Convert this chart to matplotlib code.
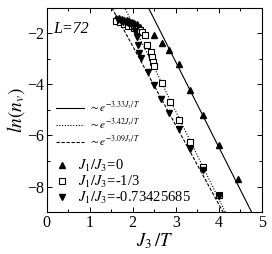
import numpy as np
import matplotlib
matplotlib.use("Agg")
import matplotlib.pyplot as plt

plt.rcParams['font.family'] = ['Liberation Serif', 'DejaVu Serif']
plt.rcParams['mathtext.fontset'] = 'stix'

# J1/J3 = 0 (filled up triangles)
x_a = [1.62, 1.68, 1.74, 1.80, 1.86, 1.92, 1.98, 2.04, 2.10, 2.16, 2.20, 2.50, 2.67, 2.84, 3.08, 3.33, 3.63, 4.01, 4.46]
y_a = [-1.40, -1.42, -1.45, -1.48, -1.50, -1.52, -1.55, -1.60, -1.66, -1.75, -1.93, -2.07, -2.38, -2.66, -3.22, -4.22, -5.22, -6.37, -7.71]

# J1/J3 = -1/3 (open squares)
x_b = [1.61, 1.70, 1.80, 1.90, 1.98, 2.04, 2.10, 2.16, 2.22, 2.29, 2.34, 2.43, 2.44, 2.47, 2.50, 2.67, 2.87, 3.07, 3.33, 3.63, 4.00]
y_b = [-1.52, -1.57, -1.63, -1.70, -1.73, -1.78, -1.82, -1.88, -1.95, -2.09, -2.45, -2.73, -2.92, -3.12, -3.29, -3.96, -4.68, -5.38, -6.27, -7.24, -8.35]

# J1/J3 = -0.73425685 (filled down triangles)
x_c = [1.66, 1.72, 1.78, 1.84, 1.90, 1.96, 2.02, 2.06, 2.09, 2.12, 2.15, 2.19, 2.35, 2.50, 2.66, 2.84, 3.07, 3.33, 3.63, 4.00]
y_c = [-1.50, -1.52, -1.55, -1.57, -1.60, -1.63, -1.70, -1.90, -2.15, -2.45, -2.77, -2.98, -3.51, -4.03, -4.57, -5.12, -5.75, -6.52, -7.37, -8.38]

# fitted lines: slope, intercept
fit_slopes = [-3.33, -3.42, -3.09]
fit_intercepts = [6.87, 5.20, 3.67]
fit_labels = [r'$\sim e^{-3.33J_3/T}$', r'$\sim e^{-3.42J_3/T}$', r'$\sim e^{-3.09J_3/T}$']
fit_styles = ['-', (0, (1, 1.5)), (0, (3, 1.5))]

series_labels = [r'$J_1/J_3$=0', r'$J_1/J_3$=-1/3', r'$J_1/J_3$=-0.73425685']

fig = plt.figure(figsize=(2.72, 2.54), dpi=100)
ax = fig.add_axes([0.172, 0.165, 0.790, 0.805])

xs = np.linspace(0, 5, 200)
line_handles = []
for s, b, ls, lab in zip(fit_slopes, fit_intercepts, fit_styles, fit_labels):
    h, = ax.plot(xs, s * xs + b, color='black', lw=0.8, linestyle=ls, label=lab)
    line_handles.append(h)

m1, = ax.plot(x_a, y_a, linestyle='none', marker='^', color='black', ms=5, label=series_labels[0])
m2, = ax.plot(x_b, y_b, linestyle='none', marker='s', mfc='white', mec='black', mew=0.8, ms=4.5, label=series_labels[1])
m3, = ax.plot(x_c, y_c, linestyle='none', marker='v', color='black', ms=5, label=series_labels[2])

ax.set_xlim(0, 5)
ax.set_ylim(-9, -1)
ax.set_xticks([0, 1, 2, 3, 4, 5])
ax.set_yticks([-8, -6, -4, -2])
ax.set_xticks(np.arange(0.5, 5, 1.0), minor=True)
ax.set_yticks([-7, -5, -3], minor=True)
ax.tick_params(which='both', direction='in', top=True, right=True, labelsize=11.5, pad=2)
ax.tick_params(which='major', length=3.5, width=0.7)
ax.tick_params(which='minor', length=2, width=0.7)
for sp in ax.spines.values():
    sp.set_linewidth(0.8)

ax.set_xlabel(r'$J_3\,/T$', fontsize=13.5, labelpad=0)
ax.set_ylabel(r'$ln(n_v)$', fontsize=14, labelpad=0)
ax.text(0.03, 0.895, 'L=72', transform=ax.transAxes, fontsize=11.5, fontstyle='italic', va='center', ha='left')

leg1 = ax.legend(handles=line_handles, loc='upper left', bbox_to_anchor=(0.02, 0.57), frameon=False,
                 fontsize=8, handlelength=2.6, handletextpad=0.4, labelspacing=0.15, borderpad=0.2,
                 borderaxespad=0.2)
ax.add_artist(leg1)
ax.legend(handles=[m1, m2, m3], loc='lower left', bbox_to_anchor=(0.01, 0.0), frameon=False,
          fontsize=10.5, handlelength=1.0, handletextpad=0.6, labelspacing=0.0, borderpad=0.2,
          borderaxespad=0.2)

fig.savefig('out.png', dpi=100)
